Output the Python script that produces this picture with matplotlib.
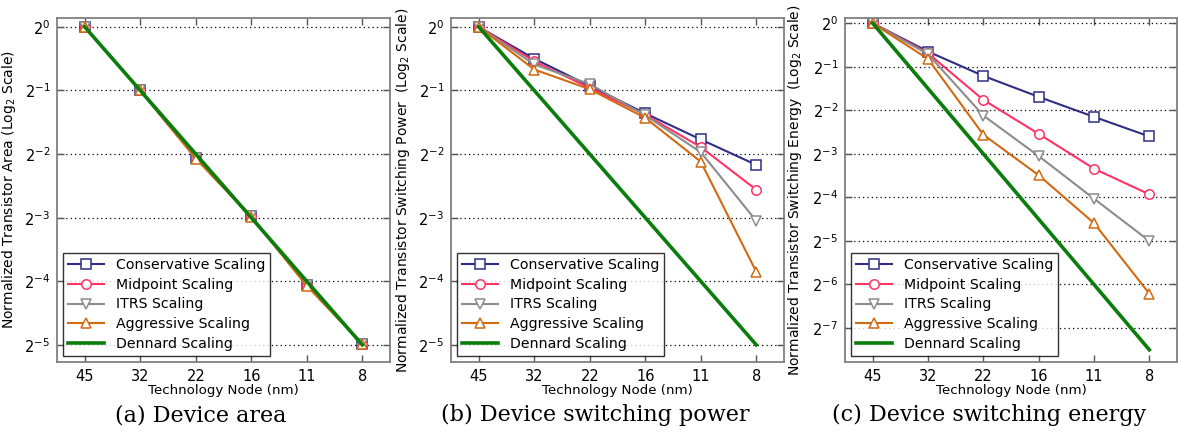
import numpy as np
import matplotlib
matplotlib.use("Agg")
import matplotlib.pyplot as plt
from matplotlib.ticker import FixedLocator, NullLocator

nodes = ["45", "32", "22", "16", "11", "8"]
series = ["Conservative Scaling", "Midpoint Scaling", "ITRS Scaling",
          "Aggressive Scaling", "Dennard Scaling"]

# log2 of normalized values, one list per scaling model
area_cons = [0, -1.0, -2.06, -2.98, -4.06, -4.98]
area_mid = [0, -1.0, -2.06, -2.98, -4.06, -4.98]
area_itrs = [0, -1.0, -2.06, -2.98, -4.06, -4.98]
area_aggr = [0, -1.0, -2.07, -2.99, -4.07, -4.99]
area_dennard = [0, -1, -2, -3, -4, -5]

power_cons = [0, -0.50, -0.93, -1.36, -1.77, -2.17]
power_mid = [0, -0.54, -0.96, -1.38, -1.89, -2.56]
power_itrs = [0, -0.59, -0.90, -1.39, -1.97, -3.05]
power_aggr = [0, -0.67, -0.98, -1.43, -2.12, -3.85]
power_dennard = [0, -1, -2, -3, -4, -5]

energy_cons = [0, -0.65, -1.21, -1.69, -2.15, -2.60]
energy_mid = [0, -0.69, -1.76, -2.54, -3.34, -3.93]
energy_itrs = [0, -0.71, -2.12, -3.05, -4.03, -5.00]
energy_aggr = [0, -0.82, -2.56, -3.49, -4.59, -6.21]
energy_dennard = [0, -1.5, -3.0, -4.5, -6.0, -7.5]

colors = ["#2e2e85", "#ff3366", "#8c8c8c", "#d26a10", "#0a7d0a"]
markers = ["s", "o", "v", "^", None]

panels = [
    ([area_cons, area_mid, area_itrs, area_aggr, area_dennard],
     "Normalized Transistor Area (Log$_2$ Scale)", range(0, -6, -1),
     (0.14, -5.27), "(a) Device area"),
    ([power_cons, power_mid, power_itrs, power_aggr, power_dennard],
     "Normalized Transistor Switching Power  (Log$_2$ Scale)", range(0, -6, -1),
     (0.14, -5.27), "(b) Device switching power"),
    ([energy_cons, energy_mid, energy_itrs, energy_aggr, energy_dennard],
     "Normalized Transistor Switching Energy  (Log$_2$ Scale)", range(0, -8, -1),
     (0.12, -7.78), "(c) Device switching energy"),
]

W, H = 1178, 436
fig = plt.figure(figsize=(W / 100, H / 100), dpi=100)
lefts = [57, 451, 845]
rights = [390, 784, 1177]
label_x = [18, 412, 804]
caption_x = [201, 595, 989]
top, bottom = 18, 362

x = np.arange(len(nodes))
for (data, ylabel, exps, ylim, caption), l, r, lx, cx in zip(
        panels, lefts, rights, label_x, caption_x):
    ax = fig.add_axes([l / W, (H - bottom) / H, (r - l) / W, (bottom - top) / H])
    for vals, name, c, m in zip(data, series, colors, markers):
        y = 2.0 ** np.array(vals)
        if m is None:
            ax.plot(x, y, color=c, lw=2.6, label=name, zorder=3)
        else:
            ax.plot(x, y, color=c, lw=1.5, marker=m, ms=6.8, mfc="white",
                    mec=c, mew=1.1, label=name, zorder=2)
    ax.set_yscale("log", base=2)
    ax.set_ylim(2.0 ** ylim[1], 2.0 ** ylim[0])
    ax.set_xlim(-0.5, 5.5)
    ticks = [2.0 ** e for e in exps]
    ax.yaxis.set_major_locator(FixedLocator(ticks))
    ax.yaxis.set_minor_locator(NullLocator())
    ax.set_yticklabels(["$2^{%d}$" % e for e in exps])
    ax.set_xticks(x)
    ax.set_xticklabels(nodes)
    ax.grid(axis="y", which="major", color="black", ls=(0, (1, 2.5)), lw=0.9)
    ax.tick_params(direction="in", length=5, width=1, color="#555555",
                   top=True, right=True, labelsize=10.5, pad=5)
    for s in ax.spines.values():
        s.set_color("#808080")
        s.set_linewidth(1.3)
    ax.set_xlabel("Technology Node (nm)", fontsize=9.6, labelpad=0)
    ax.set_ylabel(ylabel, fontsize=10)
    ax.yaxis.set_label_coords((lx - l) / (r - l), 0.5)
    leg = ax.legend(loc="lower left", fontsize=10.2, frameon=True, fancybox=False,
                    edgecolor="black", handlelength=2.6, borderpad=0.35,
                    labelspacing=0.42, borderaxespad=0.4)
    leg.get_frame().set_linewidth(1.0)
    fig.text(cx / W, 1 - 415 / H, caption, ha="center", va="center",
             family="DejaVu Serif", fontsize=16)

fig.savefig("out.png", dpi=100)
